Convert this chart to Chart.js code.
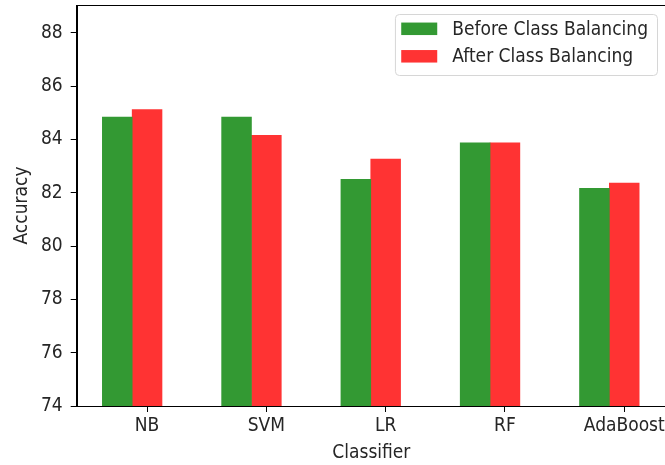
<!DOCTYPE html>
<html>
<head>
<meta charset="utf-8">
<script src="https://cdn.jsdelivr.net/npm/chart.js@4/dist/chart.umd.min.js"></script>
<style>
  html, body { margin: 0; padding: 0; background: #fff; overflow: hidden; }
  #wrap { width: 680px; height: 465px; position: relative; }
</style>
</head>
<body>
<div id="wrap"><canvas id="c" width="680" height="465"></canvas></div>
<script>
const categories = ['NB', 'SVM', 'LR', 'RF', 'AdaBoost'];
const beforeBalancing = [84.84, 84.84, 82.50, 83.87, 82.16];
const afterBalancing = [85.12, 84.15, 83.26, 83.87, 82.36];
const yTicks = [74, 76, 78, 80, 82, 84, 86, 88];
const seriesNames = ['Before Class Balancing', 'After Class Balancing'];

const FONT = "'DejaVu Sans Condensed', 'Liberation Sans Narrow', 'DejaVu Sans', sans-serif";
const GREEN = '#339933';
const RED = '#ff3333';
const TEXT = '#262626';

const frame = {
  id: 'frame',
  afterDraw(chart) {
    const {ctx, chartArea: a} = chart;
    ctx.save();
    ctx.strokeStyle = '#000';
    ctx.lineWidth = 1;
    ctx.strokeRect(Math.round(a.left) + 0.5, Math.round(a.top) + 0.5, Math.round(a.right - a.left), Math.round(a.bottom - a.top));
    // legend
    const fs = 19;
    ctx.font = fs + 'px ' + FONT;
    const ds = chart.data.datasets;
    let tw = 0;
    ds.forEach(d => { tw = Math.max(tw, ctx.measureText(d.label).width); });
    const handleW = 36, handleH = 12.5, padL = 6.3, gap = 15, padR = 9, rowH = 27.5;
    const boxW = padL + handleW + gap + tw + padR;
    const boxH = 61;
    const bx = a.right - 9 - boxW, by = a.top + 9;
    ctx.beginPath();
    if (ctx.roundRect) ctx.roundRect(bx + 0.5, by + 0.5, boxW, boxH, 4); else ctx.rect(bx + 0.5, by + 0.5, boxW, boxH);
    ctx.fillStyle = 'rgba(255,255,255,0.8)';
    ctx.fill();
    ctx.strokeStyle = '#d6d6d6';
    ctx.stroke();
    ds.forEach((d, i) => {
      const cy = by + 14.8 + i * rowH;
      ctx.fillStyle = d.backgroundColor;
      ctx.fillRect(bx + padL, cy - handleH / 2, handleW, handleH);
      ctx.fillStyle = TEXT;
      ctx.textBaseline = 'middle';
      ctx.textAlign = 'left';
      ctx.fillText(d.label, bx + padL + handleW + gap, cy + 1);
    });
    ctx.restore();
  }
};

new Chart(document.getElementById('c'), {
  type: 'bar',
  data: {
    datasets: [
      {
        label: seriesNames[0],
        data: categories.map((c, i) => ({x: i - 0.25, y: beforeBalancing[i]})),
        backgroundColor: GREEN,
        grouped: false,
        barPercentage: 1,
        categoryPercentage: 1,
        borderWidth: 0
      },
      {
        label: seriesNames[1],
        data: categories.map((c, i) => ({x: i, y: afterBalancing[i]})),
        backgroundColor: RED,
        grouped: false,
        barPercentage: 1,
        categoryPercentage: 1,
        borderWidth: 0
      }
    ]
  },
  options: {
    responsive: false,
    animation: false,
    devicePixelRatio: 1,
    layout: { padding: { left: 0, top: 5, right: 14, bottom: 0 } },
    plugins: {
      legend: { display: false },
      tooltip: { enabled: false }
    },
    scales: {
      x: {
        type: 'linear',
        offset: false,
        min: -0.59,
        max: 4.35,
        grid: { display: true, offset: false, drawOnChartArea: false, drawTicks: true, tickLength: 6, color: '#000', tickColor: '#000', tickWidth: 1 },
        border: { display: true, color: '#000', width: 1 },
        afterBuildTicks: (s) => { s.ticks = categories.map((c, i) => ({value: i})); },
        ticks: {
          stepSize: 1,
          includeBounds: false,
          autoSkip: false,
          maxRotation: 0,
          padding: 3,
          color: TEXT,
          font: { family: FONT, size: 19 },
          callback: (v) => {
            const k = Math.round(v);
            return Math.abs(v - k) < 1e-6 && categories[k] !== undefined ? categories[k] : '';
          }
        },
        title: { display: true, text: 'Classifier', color: TEXT, font: { family: FONT, size: 19 }, padding: { top: 0, bottom: 1 } },
        afterFit: (s) => { s.height = 59; s.paddingLeft = 0; s.paddingRight = 0; }
      },
      y: {
        min: 74,
        max: 89.04,
        grid: { display: true, drawOnChartArea: false, drawTicks: true, tickLength: 6, color: '#000', tickColor: '#000', tickWidth: 1 },
        border: { display: true, color: '#000', width: 1 },
        afterBuildTicks: (s) => { s.ticks = yTicks.map(v => ({value: v})); },
        ticks: {
          stepSize: 2,
          includeBounds: false,
          padding: 8,
          color: TEXT,
          font: { family: FONT, size: 19 }
        },
        title: { display: true, text: 'Accuracy', color: TEXT, font: { family: FONT, size: 19 }, padding: { top: 11, bottom: 0 } },
        afterFit: (s) => { s.width = 76.7; s.paddingTop = 0; s.paddingBottom = 0; }
      }
    }
  },
  plugins: [frame]
});
</script>
</body>
</html>
